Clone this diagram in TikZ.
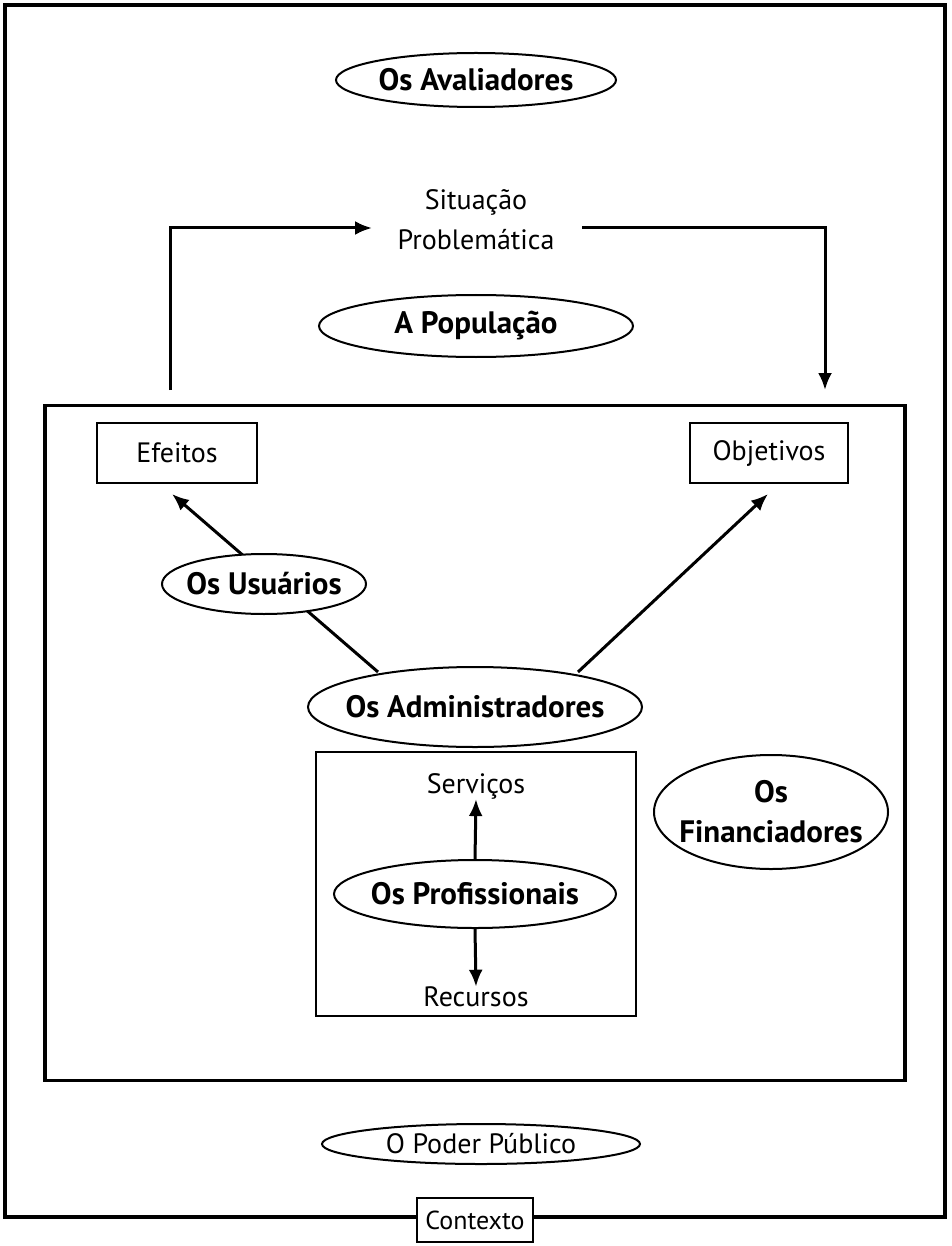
\documentclass[tikz,border=0pt]{standalone}
\usepackage{fontspec}
\setmainfont{PT Sans}
\usetikzlibrary{shapes.geometric,arrows.meta,backgrounds}
\begin{document}
\begin{tikzpicture}[x=1pt,y=-1pt,
  frame/.style={draw,line width=3.4pt,inner sep=0pt},
  label box/.style={draw,line width=2pt,fill=white,inner sep=0pt,
    font=\fontsize{28}{32}\selectfont},
  plain/.style={inner sep=0pt,align=center,font=\fontsize{28}{40}\selectfont},
  % negative inner sep: the ellipse size is set by minimum width/height only
  actor/.style={ellipse,draw,line width=2pt,fill=white,
    inner xsep=-40pt,inner ysep=-20pt,
    align=center,font=\bfseries\fontsize{31}{36}\selectfont},
  actor light/.style={actor,font=\fontsize{28}{32}\selectfont},
  link/.style={line width=3pt},
  arr/.style={link,-{Latex[length=17pt,width=14pt]}}]
\useasboundingbox (0,0) rectangle (951,1246);

% frames
\node[frame,minimum width=940,minimum height=1212] (outer) at (475,611) {};
\node[frame,minimum width=860,minimum height=675] (inner) at (475,743) {};
\node[draw,line width=2pt,minimum width=320,minimum height=264] (core) at (476,884) {};
\node[label box,minimum width=116,minimum height=44,font=\fontsize{26}{30}\selectfont] (ctx) at (475,1220) {Contexto};

% actors and labels
\node[actor,minimum width=280,minimum height=54] (aval) at (476,80) {Os Avaliadores};
\node[plain] (sit) at (476,220) {Situação\\Problemática};
\node[actor,minimum width=314,minimum height=62] (pop) at (476,326) {A População};
\node[label box,minimum width=160,minimum height=60] (eff) at (177,453) {Efeitos};
\node[label box,minimum width=158,minimum height=60] (obj) at (769,453) {Objetivos};
\node[actor,minimum width=204,minimum height=60] (usu) at (264,584) {Os Usuários};
\node[actor,minimum width=334,minimum height=80] (adm) at (475,707) {Os Administradores};
\node[plain] (serv) at (476,786) {Serviços};
\node[actor,minimum width=282,minimum height=68] (prof) at (475,894) {Os Profissionais};
\node[plain] (rec) at (476,997) {Recursos};
\node[actor,minimum width=234,minimum height=114,font=\bfseries\fontsize{31}{40}\selectfont] (fin) at (771,812) {Os\\Financiadores};
\node[actor light,minimum width=318,minimum height=40] (pod) at (481,1144) {O Poder Público};

% end points of the connectors
\coordinate (upL) at (170,390);
\coordinate (inS) at (372,228);
\coordinate (outS) at (582,228);
\coordinate (downR) at (825,390);
\coordinate (admL) at (378,672);
\coordinate (admR) at (578,672);
\coordinate (effTip) at (172,494);
\coordinate (objTip) at (768,494);

% connectors
\draw[arr] (upL) |- (inS);
\draw[arr] (outS) -| (downR);
\begin{scope}[on background layer]
  \fill[white] (0,0) rectangle (951,1246);
  \draw[arr] (admL) -- (effTip);
\end{scope}
\draw[arr] (admR) -- (objTip);
\draw[arr] (prof.north) -- (serv.south);
\draw[arr] (prof.south) -- (rec.north);
\end{tikzpicture}
\end{document}
